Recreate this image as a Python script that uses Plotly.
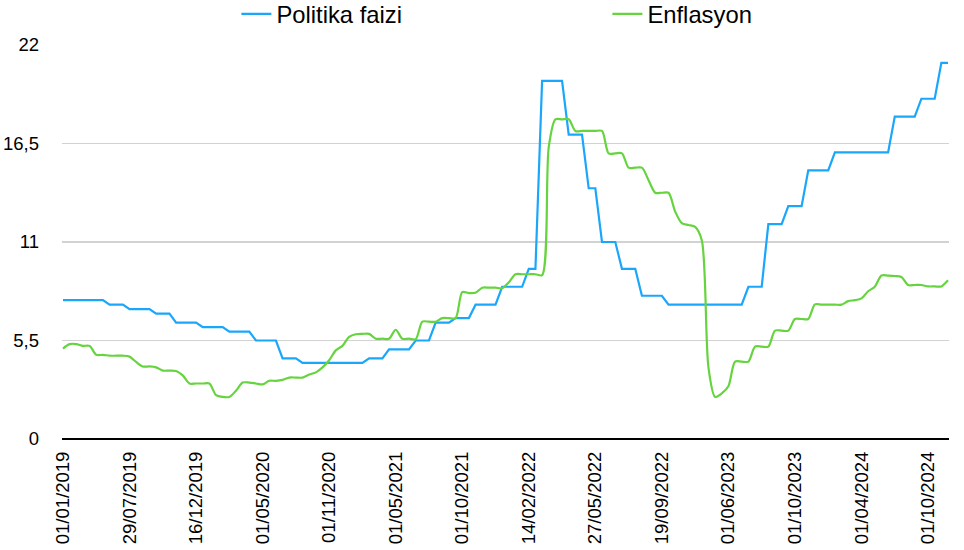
import plotly.graph_objects as go

# X tick labels (shown every 10th observation)
tick_labels = ["01/01/2019", "29/07/2019", "16/12/2019", "01/05/2020", "01/11/2020",
               "01/05/2021", "01/10/2021", "14/02/2022", "27/05/2022", "19/09/2022",
               "01/06/2023", "01/10/2023", "01/04/2024", "01/10/2024"]
label_step = 10

politika_faizi = [
    7.75, 7.75, 7.75, 7.75, 7.75, 7.75, 7.75, 7.5, 7.5, 7.5,
    7.25, 7.25, 7.25, 7.25, 7.0, 7.0, 7.0, 6.5, 6.5, 6.5,
    6.5, 6.25, 6.25, 6.25, 6.25, 6.0, 6.0, 6.0, 6.0, 5.5,
    5.5, 5.5, 5.5, 4.5, 4.5, 4.5, 4.25, 4.25, 4.25, 4.25,
    4.25, 4.25, 4.25, 4.25, 4.25, 4.25, 4.5, 4.5, 4.5, 5.0,
    5.0, 5.0, 5.0, 5.5, 5.5, 5.5, 6.5, 6.5, 6.5, 6.75,
    6.75, 6.75, 7.5, 7.5, 7.5, 7.5, 8.5, 8.5, 8.5, 8.5,
    9.5, 9.5, 20.0, 20.0, 20.0, 20.0, 17.0, 17.0, 17.0, 14.0,
    14.0, 11.0, 11.0, 11.0, 9.5, 9.5, 9.5, 8.0, 8.0, 8.0,
    8.0, 7.5, 7.5, 7.5, 7.5, 7.5, 7.5, 7.5, 7.5, 7.5,
    7.5, 7.5, 7.5, 8.5, 8.5, 8.5, 12.0, 12.0, 12.0, 13.0,
    13.0, 13.0, 15.0, 15.0, 15.0, 15.0, 16.0, 16.0, 16.0, 16.0,
    16.0, 16.0, 16.0, 16.0, 16.0, 18.0, 18.0, 18.0, 18.0, 19.0,
    19.0, 19.0, 21.0, 21.0,
]

enflasyon = [
    5.05, 5.3, 5.3, 5.2, 5.2, 4.7, 4.7, 4.65, 4.65, 4.65,
    4.6, 4.3, 4.05, 4.05, 4.0, 3.82, 3.82, 3.8, 3.55, 3.1,
    3.1, 3.1, 3.1, 2.45, 2.35, 2.35, 2.7, 3.15, 3.15, 3.1,
    3.05, 3.25, 3.25, 3.3, 3.43, 3.43, 3.43, 3.6, 3.72, 4.0,
    4.4, 4.95, 5.2, 5.7, 5.85, 5.87, 5.87, 5.6, 5.6, 5.6,
    6.1, 5.6, 5.6, 5.57, 6.55, 6.55, 6.55, 6.75, 6.75, 6.75,
    8.2, 8.15, 8.17, 8.45, 8.45, 8.45, 8.42, 8.75, 9.2, 9.2,
    9.2, 9.2, 9.15, 16.3, 17.85, 17.85, 17.85, 17.2, 17.2, 17.2,
    17.2, 17.2, 15.95, 15.95, 15.95, 15.15, 15.15, 15.15, 14.45, 13.75,
    13.75, 13.75, 12.7, 12.05, 11.95, 11.85, 11.1, 4.0, 2.35, 2.55,
    2.95, 4.32, 4.32, 4.32, 5.16, 5.16, 5.16, 6.05, 6.05, 6.05,
    6.7, 6.7, 6.7, 7.52, 7.5, 7.5, 7.5, 7.5, 7.7, 7.75,
    7.85, 8.25, 8.5, 9.13, 9.12, 9.1, 9.05, 8.6, 8.6, 8.6,
    8.52, 8.52, 8.52, 8.86,
]

y_tickvals = [0, 5.5, 11, 16.5, 22]
y_ticktext = ["0", "5,5", "11", "16,5", "22"]

x = list(range(len(politika_faizi)))
tickvals = [i * label_step for i in range(len(tick_labels))]

FONT = "Liberation Sans, Arial, sans-serif"

fig = go.Figure()
fig.add_trace(go.Scatter(x=x, y=politika_faizi, mode="lines", name="Politika faizi",
                         line=dict(color="#1aa7fb", width=2.2)))
fig.add_trace(go.Scatter(x=x, y=enflasyon, mode="lines", name="Enflasyon",
                         line=dict(color="#66d43e", width=2.2, shape="spline", smoothing=0.8)))

fig.update_layout(
    width=964, height=550,
    margin=dict(l=62, r=15, t=45, b=111, autoexpand=False),
    paper_bgcolor="white", plot_bgcolor="white",
    font=dict(family=FONT, size=18.5, color="#000000"),
    showlegend=True,
    legend=dict(orientation="h", x=0.1966, xanchor="left",
                y=1.079, yanchor="middle", yref="paper",
                font=dict(size=23.8, family=FONT),
                entrywidth=326, bgcolor="rgba(0,0,0,0)"),
    hovermode=False,
)

fig.update_xaxes(
    range=[-0.15, len(x) - 1 + 0.15],
    tickmode="array", tickvals=tickvals, ticktext=tick_labels,
    tickangle=-90, showgrid=False, zeroline=False,
    showline=False, ticks="", ticklabelstandoff=8,
    tickfont=dict(size=18.5, family=FONT),
)
fig.update_yaxes(
    range=[0, 22],
    tickmode="array", tickvals=y_tickvals, ticktext=y_ticktext,
    showgrid=True, gridcolor="#d2d2d2", gridwidth=1.5,
    zeroline=True, zerolinecolor="#000000", zerolinewidth=2,
    showline=False, ticks="", ticklabelstandoff=22,
    tickfont=dict(size=18.5, family=FONT),
)

fig.write_html("out.html",
               config={"displayModeBar": False, "staticPlot": True},
               post_script="document.body.style.margin='0';document.body.style.padding='0';")
